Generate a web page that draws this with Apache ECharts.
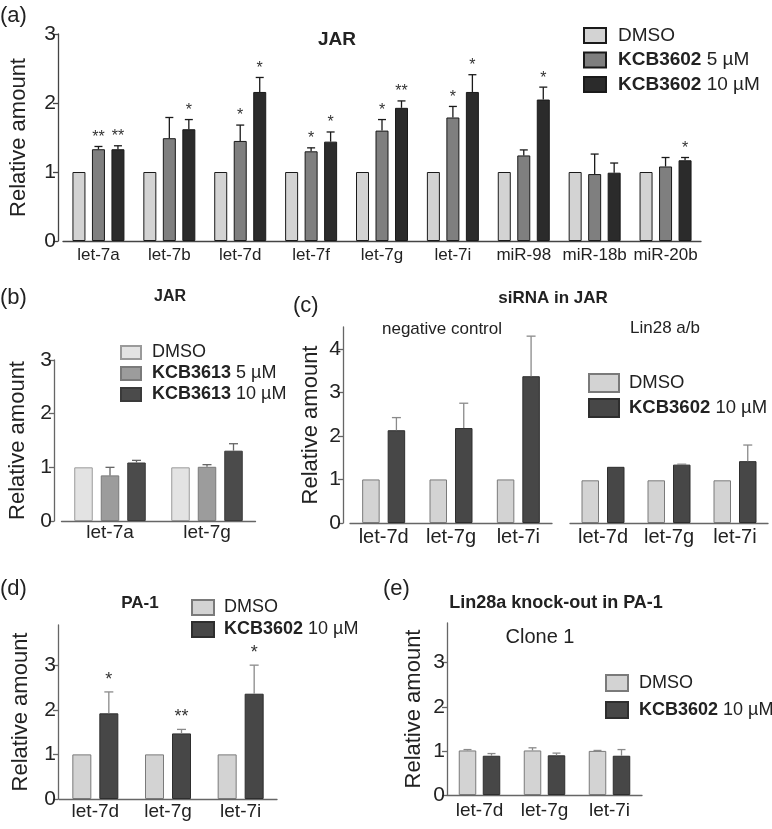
<!DOCTYPE html>
<html><head><meta charset="utf-8">
<script src="https://cdn.jsdelivr.net/npm/echarts@6/dist/echarts.min.js"></script>
<style>html,body{margin:0;padding:0;background:#fff}#c{width:772px;height:829px}</style>
</head><body><div id="c"></div><script>
// ---------- DATA ----------
const catsA = ['let-7a','let-7b','let-7d','let-7f','let-7g','let-7i','miR-98','miR-18b','miR-20b'];
const aDMSO = [1,1,1,1,1,1,1,1,1];
const a5 = [1.33,1.49,1.45,1.30,1.60,1.79,1.24,0.97,1.08];
const a5Err = [0.04,0.30,0.23,0.05,0.16,0.16,0.08,0.29,0.13];
const a5Sig = ['**','','*','*','*','*','','',''];
const a10 = [1.33,1.62,2.16,1.44,1.93,2.16,2.05,0.99,1.17];
const a10Err = [0.05,0.14,0.21,0.14,0.10,0.25,0.18,0.14,0.04];
const a10Sig = ['**','*','*','*','**','*','*','','*'];

const catsB = ['let-7a','let-7g'];
const bDMSO = [1,1];
const b5 = [0.85,1.01];
const b5Err = [0.15,0.04];
const b10 = [1.09,1.31];
const b10Err = [0.04,0.13];

const catsC = ['let-7d','let-7g','let-7i'];
const cNegDMSO = [1,1,1];
const cNegKCB = [2.13,2.18,3.37];
const cNegErr = [0.29,0.57,0.92];
const cLinDMSO = [0.98,0.98,0.98];
const cLinKCB = [1.29,1.34,1.42];
const cLinErr = [0,0.01,0.37];

const catsD = ['let-7d','let-7g','let-7i'];
const dDMSO = [1,1,1];
const dKCB = [1.92,1.47,2.36];
const dErr = [0.48,0.09,0.64];
const dSig = ['*','**','*'];

const catsE = ['let-7d','let-7g','let-7i'];
const eDMSO = [1.01,1.01,1.00];
const eDMSOErr = [0.02,0.06,0.01];
const eKCB = [0.89,0.90,0.89];
const eKCBErr = [0.05,0.05,0.14];

const yTicks3 = [0,1,2,3];
const yTicks4 = [0,1,2,3,4];

// ---------- STYLE / LAYOUT ----------
const FONT = "'Liberation Sans', Arial, Helvetica, sans-serif";
const TXT = '#222';
const grids = [
  {left:60, top:34, width:641, height:207},
  {left:61.5, top:360, width:194, height:161},
  {left:350, top:327, width:202, height:196},
  {left:570, top:327, width:198, height:196},
  {left:59, top:625, width:218, height:174},
  {left:447, top:623, width:195, height:172}
];
const axisCol = ['#444','#666','#666','#666','#666','#666'];
const xFont = [17,19,20,20,19,19];
const xMargin = [6,2,4,4,3,6];
const xCats = [catsA,catsB,catsC,catsC,catsD,catsE];
const yMax = [3,3,4.5,4.5,3.9,3.9];
const yOff = [5,7.5,7,0,1,0];
const yNameGap = [28,25,21,0,26,22];
const yCustom = [yTicks3,yTicks3,yTicks4,yTicks4,yTicks3,yTicks3];

const xAxes = grids.map((g,i)=>({
  type:'category', gridIndex:i, data:xCats[i],
  axisLine:{lineStyle:{color:axisCol[i], width:1.3}},
  axisTick:{alignWithLabel:true, length:5, lineStyle:{color:axisCol[i], width:1.3}},
  axisLabel:{fontSize:xFont[i], color:TXT, margin:xMargin[i], fontFamily:FONT, interval:0}
}));
const yAxes = grids.map((g,i)=>({
  type:'value', gridIndex:i, min:0, max:yMax[i], interval:1, offset:yOff[i],
  show: i!==3,
  axisLine:{show:true, lineStyle:{color:axisCol[i], width:1.3}},
  axisTick:{show:true, length:5, lineStyle:{color:axisCol[i], width:1.3}, customValues:yCustom[i]},
  splitLine:{show:false},
  axisLabel:{fontSize:21, color:TXT, margin:2, fontFamily:FONT, customValues:yCustom[i]},
  name:'Relative amount', nameLocation:'middle', nameGap:yNameGap[i],
  nameTextStyle:{fontSize:22, color:TXT, fontFamily:FONT}
}));

function bar(name, gi, data, color, border, bw, gap){
  return {type:'bar', name, xAxisIndex:gi, yAxisIndex:gi, data, barWidth:bw,
    barGap:(gap/bw*100)+'%', silent:true,
    itemStyle:{color, borderColor:border, borderWidth:1}};
}
function errSeries(gi, vals, errs, sigs, idx, n, bw, gap, color, cap, starSize, starOff){
  return {type:'custom', xAxisIndex:gi, yAxisIndex:gi, silent:true, z:5,
    data: vals.map((v,i)=>[i, v, errs ? errs[i] : 0]),
    renderItem(params, api){
      const i=api.value(0), v=api.value(1), e=api.value(2);
      const p0=api.coord([i,v]), p1=api.coord([i,v+e]);
      const x = p0[0] + (idx-(n-1)/2)*(bw+gap);
      const ch=[];
      if(e>0){
        ch.push({type:'line', shape:{x1:x,y1:p0[1],x2:x,y2:p1[1]}, style:{stroke:color,lineWidth:1.3}});
        ch.push({type:'line', shape:{x1:x-cap/2,y1:p1[1],x2:x+cap/2,y2:p1[1]}, style:{stroke:color,lineWidth:1.3}});
      }
      const s = sigs ? sigs[params.dataIndex] : '';
      if(s) ch.push({type:'text', x:x, y:p1[1]-starOff,
        style:{text:s, fill:'#333', font:starSize+'px '+FONT, align:'center', verticalAlign:'bottom'}});
      return {type:'group', children:ch};
    }};
}

const A = {D:'#d3d3d3', M:'#7f7f7f', H:'#2b2b2b', B:'#1a1a1a'};
const Bc = {D:'#e3e3e3', DB:'#9a9a9a', M:'#9c9c9c', MB:'#7a7a7a', H:'#4b4b4b', HB:'#3a3a3a'};
const C = {D:'#d3d3d3', DB:'#7a7a7a', K:'#474747', KB:'#2e2e2e'};

const series = [
  bar('aD',0,aDMSO,A.D,A.B,13,6.5),
  bar('a5',0,a5,A.M,A.B,13,6.5),
  bar('a10',0,a10,A.H,A.B,13,6.5),
  errSeries(0,a5,a5Err,a5Sig,1,3,13,6.5,'#1a1a1a',8,16,1),
  errSeries(0,a10,a10Err,a10Sig,2,3,13,6.5,'#1a1a1a',8,16,1),

  bar('bD',1,bDMSO,Bc.D,Bc.DB,18.5,8),
  bar('b5',1,b5,Bc.M,Bc.MB,18.5,8),
  bar('b10',1,b10,Bc.H,Bc.HB,18.5,8),
  errSeries(1,b5,b5Err,null,1,3,18.5,8,'#666',9,14,2),
  errSeries(1,b10,b10Err,null,2,3,18.5,8,'#666',9,14,2),

  bar('cD',2,cNegDMSO,C.D,C.DB,17.5,8),
  bar('cK',2,cNegKCB,C.K,C.KB,17.5,8),
  errSeries(2,cNegKCB,cNegErr,null,1,2,17.5,8,'#8a8a8a',9,14,2),
  bar('cD2',3,cLinDMSO,C.D,C.DB,17.5,8),
  bar('cK2',3,cLinKCB,C.K,C.KB,17.5,8),
  errSeries(3,cLinKCB,cLinErr,null,1,2,17.5,8,'#8a8a8a',9,14,2),

  bar('dD',4,dDMSO,C.D,C.DB,19,8),
  bar('dK',4,dKCB,C.K,C.KB,19,8),
  errSeries(4,dKCB,dErr,dSig,1,2,19,8,'#8a8a8a',9,18,3),

  bar('eD',5,eDMSO,C.D,C.DB,17.5,6.5),
  bar('eK',5,eKCB,C.K,C.KB,17.5,6.5),
  errSeries(5,eDMSO,eDMSOErr,null,0,2,17.5,6.5,'#8a8a8a',8,14,2),
  errSeries(5,eKCB,eKCBErr,null,1,2,17.5,6.5,'#8a8a8a',8,14,2)
];

const LBL = {
  aD:'DMSO', a5:'{b|KCB3602} 5 µM', a10:'{b|KCB3602} 10 µM',
  bD:'DMSO', b5:'{b|KCB3613} 5 µM', b10:'{b|KCB3613} 10 µM',
  cD:'DMSO', cK:'{b|KCB3602} 10 µM',
  dD:'DMSO', dK:'{b|KCB3602} 10 µM',
  eD:'DMSO', eK:'{b|KCB3602} 10 µM'
};
function legend(names, left, top, fs, lh, gap, iw, ih, pad){
  return {data:names, left, top, orient:'vertical', selectedMode:false,
    itemWidth:iw, itemHeight:ih, itemGap:gap, icon:'rect',
    formatter:n=>LBL[n],
    textStyle:{fontSize:fs, color:TXT, fontFamily:FONT, lineHeight:lh, padding:[0,0,0,pad],
      rich:{b:{fontWeight:'bold', fontSize:fs, color:TXT, fontFamily:FONT, lineHeight:lh}}}};
}
const legends = [
  legend(['aD','a5','a10'], 578, 19.5, 19, 22, 2.5, 22, 15, 7),
  legend(['bD','b5','b10'], 115, 338, 18, 19, 2, 20, 13, 6),
  legend(['cD','cK'], 583, 367, 18.5, 22, 3, 30, 18, 5),
  legend(['dD','dK'], 186, 592.5, 18, 20, 2, 22, 15, 5),
  legend(['eD','eK'], 600, 667, 18, 22, 5, 22, 16, 6)
];

function txt(text, x, y, size, bold, align){
  return {type:'text', x, y, silent:true,
    style:{text, fill:TXT, font:(bold?'bold ':'')+size+'px '+FONT, align:align||'center', verticalAlign:'middle'}};
}
const graphics = [
  txt('(a)',0,16,22,false,'left'),
  txt('JAR',337,40,19,true),
  txt('(b)',0,298,22,false,'left'),
  txt('JAR',170,297,16,true),
  txt('(c)',293,306,22,false,'left'),
  txt('siRNA in JAR',553,298,17,true),
  txt('negative control',442,329,17,false),
  txt('Lin28 a/b',665,328,17,false),
  txt('(d)',0,589,22,false,'left'),
  txt('PA-1',140,603,17,true),
  txt('(e)',383,589,22,false,'left'),
  txt('Lin28a knock-out in PA-1',556,603,18,true),
  txt('Clone 1',540,637,20,false)
];

const chart = echarts.init(document.getElementById('c'), null, {renderer:'canvas'});
chart.setOption({
  animation:false,
  backgroundColor:'#fff',
  textStyle:{fontFamily:FONT},
  grid:grids,
  xAxis:xAxes,
  yAxis:yAxes,
  legend:legends,
  series,
  graphic:graphics
});
</script></body></html>
